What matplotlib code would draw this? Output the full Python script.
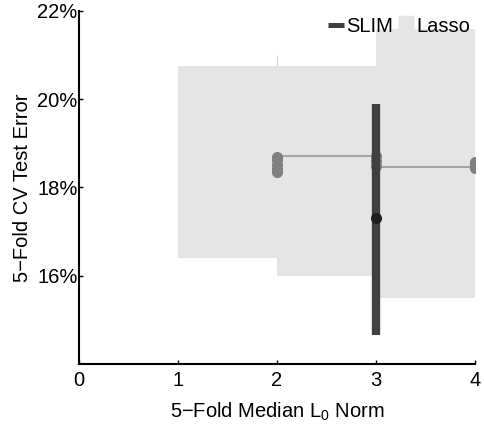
import matplotlib
matplotlib.use("Agg")
import matplotlib.pyplot as plt
from matplotlib.lines import Line2D

plt.rcParams['font.family'] = ['Liberation Sans', 'DejaVu Sans']
plt.rcParams['mathtext.fontset'] = 'custom'
plt.rcParams['mathtext.rm'] = 'Liberation Sans'
plt.rcParams['mathtext.default'] = 'regular'

# Lasso shaded ranges (step regions between model sizes)
lasso_seg_start = [1, 2, 3]
lasso_seg_end = [2, 3, 4]
lasso_seg_low = [16.4, 16.0, 15.5]
lasso_seg_high = [20.75, 20.75, 21.6]
lasso_spike_x = 2
lasso_spike_high = 21.0

# Lasso fold errors at each median L0 norm
lasso_pts_x = [2, 2, 2, 2, 2, 3, 3, 3, 4, 4, 4]
lasso_pts_y = [18.70, 18.62, 18.52, 18.43, 18.34, 18.72, 18.60, 18.48, 18.58, 18.50, 18.44]
lasso_line_x0 = [2, 3]
lasso_line_x1 = [3, 4]
lasso_line_y = [18.71, 18.46]

# SLIM
slim_x = [3]
slim_low = [14.66]
slim_high = [19.89]
slim_mid = [17.3]

yticks = [16, 18, 20, 22]
xticks = [0, 1, 2, 3, 4]

FS = 14.5
fig = plt.figure(figsize=(4.84, 4.30), dpi=100)
ax = fig.add_axes([0.163, 0.1535, 0.818, 0.821])

light = '#e5e5e5'
for x0, x1, lo, hi in zip(lasso_seg_start, lasso_seg_end, lasso_seg_low, lasso_seg_high):
    ax.fill_between([x0, x1], [lo, lo], [hi, hi], color=light, lw=0, zorder=1)
ax.vlines([lasso_spike_x], [lasso_seg_high[1]], [lasso_spike_high], color='#d8d8d8', lw=1, zorder=1)

ax.hlines(lasso_line_y, lasso_line_x0, lasso_line_x1, color='#a0a0a0', lw=1.3, zorder=2)
ax.plot(lasso_pts_x, lasso_pts_y, 'o', ms=8, color='#808080', mec='none', zorder=3)

ax.vlines(slim_x, slim_low, slim_high, color='#404040', lw=6, zorder=4)
ax.plot(slim_x, slim_mid, 'o', ms=8, color='#1e1e1e', mec='none', zorder=5)

ax.set_xlim(0, 4)
ax.set_ylim(14, 22)
ax.set_xticks(xticks)
ax.set_yticks(yticks)
ax.set_yticklabels([f'{v}%' for v in yticks])
for s in ['top', 'right']:
    ax.spines[s].set_visible(False)
for s in ['left', 'bottom']:
    ax.spines[s].set_linewidth(1.5)
ax.tick_params(direction='in', length=3, width=1, labelsize=FS)
ax.tick_params(axis='y', pad=1)
ax.tick_params(axis='x', pad=5)
ax.set_xlabel('5\u2212Fold Median L$_0$ Norm', fontsize=FS, labelpad=8)
ax.set_ylabel('5\u2212Fold CV Test Error', fontsize=FS, labelpad=4)

handles = [Line2D([], [], color='#404040', lw=3.6, solid_capstyle='butt'),
           Line2D([], [], color=light, lw=14, solid_capstyle='butt')]
leg = ax.legend(handles, ['SLIM', 'Lasso'], loc='upper right', ncol=2, frameon=False,
                fontsize=FS, handlelength=0.8, handletextpad=0.1, columnspacing=0.25,
                bbox_to_anchor=(470 / 484, 1 - 17 / 430), bbox_transform=fig.transFigure,
                borderaxespad=0, borderpad=0)

fig.savefig('out.png', dpi=100)
